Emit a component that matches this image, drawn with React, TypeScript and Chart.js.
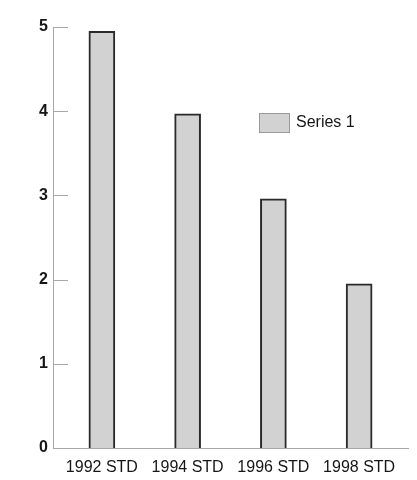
import React, { useEffect, useRef } from "react";
import { Chart, registerables } from "chart.js";

Chart.register(...registerables);

const categories = ["1992 STD", "1994 STD", "1996 STD", "1998 STD"];
const seriesName = "Series 1";
const seriesValues = [4.95, 3.97, 2.96, 1.95];
const yTicks = [0, 1, 2, 3, 4, 5];

const FONT = "'Liberation Sans', Arial, Helvetica, sans-serif";
const AXIS_COLOR = "#a8a8a8";
const TEXT_COLOR = "#161616";
const BAR_FILL = "#d2d2d2";
const BAR_BORDER = "#2a2a2a";

export default function App() {
  const ref = useRef<HTMLCanvasElement>(null);

  useEffect(() => {
    if (!ref.current) return;

    const innerTicks = {
      id: "innerTicks",
      afterDraw(chart: any) {
        const { ctx, chartArea, scales } = chart;
        ctx.save();
        ctx.strokeStyle = AXIS_COLOR;
        ctx.lineWidth = 1;
        yTicks.forEach((v) => {
          const y = Math.round(scales.y.getPixelForValue(v)) + 0.5;
          ctx.beginPath();
          ctx.moveTo(chartArea.left, y);
          ctx.lineTo(chartArea.left + 15, y);
          ctx.stroke();
        });
        ctx.restore();
      },
    };

    const insideLegend = {
      id: "insideLegend",
      afterDraw(chart: any) {
        const { ctx, chartArea } = chart;
        const ds = chart.data.datasets[0];
        const bx = chartArea.left + 206;
        const by = chartArea.top + 86;
        ctx.save();
        ctx.fillStyle = ds.backgroundColor;
        ctx.fillRect(bx, by, 31, 20);
        ctx.strokeStyle = "#9a9a9a";
        ctx.lineWidth = 1;
        ctx.strokeRect(bx + 0.5, by + 0.5, 30, 19);
        ctx.fillStyle = TEXT_COLOR;
        ctx.font = `16px ${FONT}`;
        ctx.textBaseline = "middle";
        ctx.textAlign = "left";
        ctx.fillText(ds.label, bx + 37, by + 10);
        ctx.restore();
      },
    };

    const chart = new Chart(ref.current, {
      type: "bar",
      data: {
        datasets: [
          {
            label: seriesName,
            data: seriesValues.map((v, i) => ({ x: i, y: v })) as any,
            backgroundColor: BAR_FILL,
            borderColor: BAR_BORDER,
            borderWidth: 2,
            barThickness: 26,
          },
        ],
      },
      options: {
        animation: false,
        responsive: true,
        maintainAspectRatio: false,
        layout: { padding: { top: 27, right: 9, left: 0, bottom: 0 } },
        plugins: {
          legend: { display: false },
          tooltip: { enabled: false },
        },
        scales: {
          x: {
            type: "linear",
            min: -0.57,
            max: 3.57,
            offset: false,
            grid: { display: false, drawTicks: false },
            border: { display: true, color: AXIS_COLOR, width: 1 },
            afterBuildTicks: (s: any) => {
              s.ticks = categories.map((_, i) => ({ value: i }));
            },
            afterFit: (s: any) => {
              s.height = 32;
            },
            ticks: {
              autoSkip: false,
              maxRotation: 0,
              padding: 10,
              color: TEXT_COLOR,
              font: { family: FONT, size: 16 },
              callback: (v: any) => categories[Math.round(Number(v))],
            },
          },
          y: {
            min: 0,
            max: 5,
            grid: { display: false, drawTicks: false },
            border: { display: true, color: AXIS_COLOR, width: 1 },
            afterBuildTicks: (s: any) => {
              s.ticks = yTicks.map((v) => ({ value: v }));
            },
            afterFit: (s: any) => {
              s.width = 53;
            },
            ticks: {
              stepSize: 1,
              padding: 5,
              color: TEXT_COLOR,
              font: { family: FONT, size: 16, weight: "bold" },
            },
          },
        },
      } as any,
      plugins: [innerTicks, insideLegend],
    });

    return () => chart.destroy();
  }, []);

  return (
    <div style={{ position: "fixed", left: 0, top: 0, width: 417, height: 480, background: "#fff" }}>
      <canvas ref={ref} />
    </div>
  );
}
